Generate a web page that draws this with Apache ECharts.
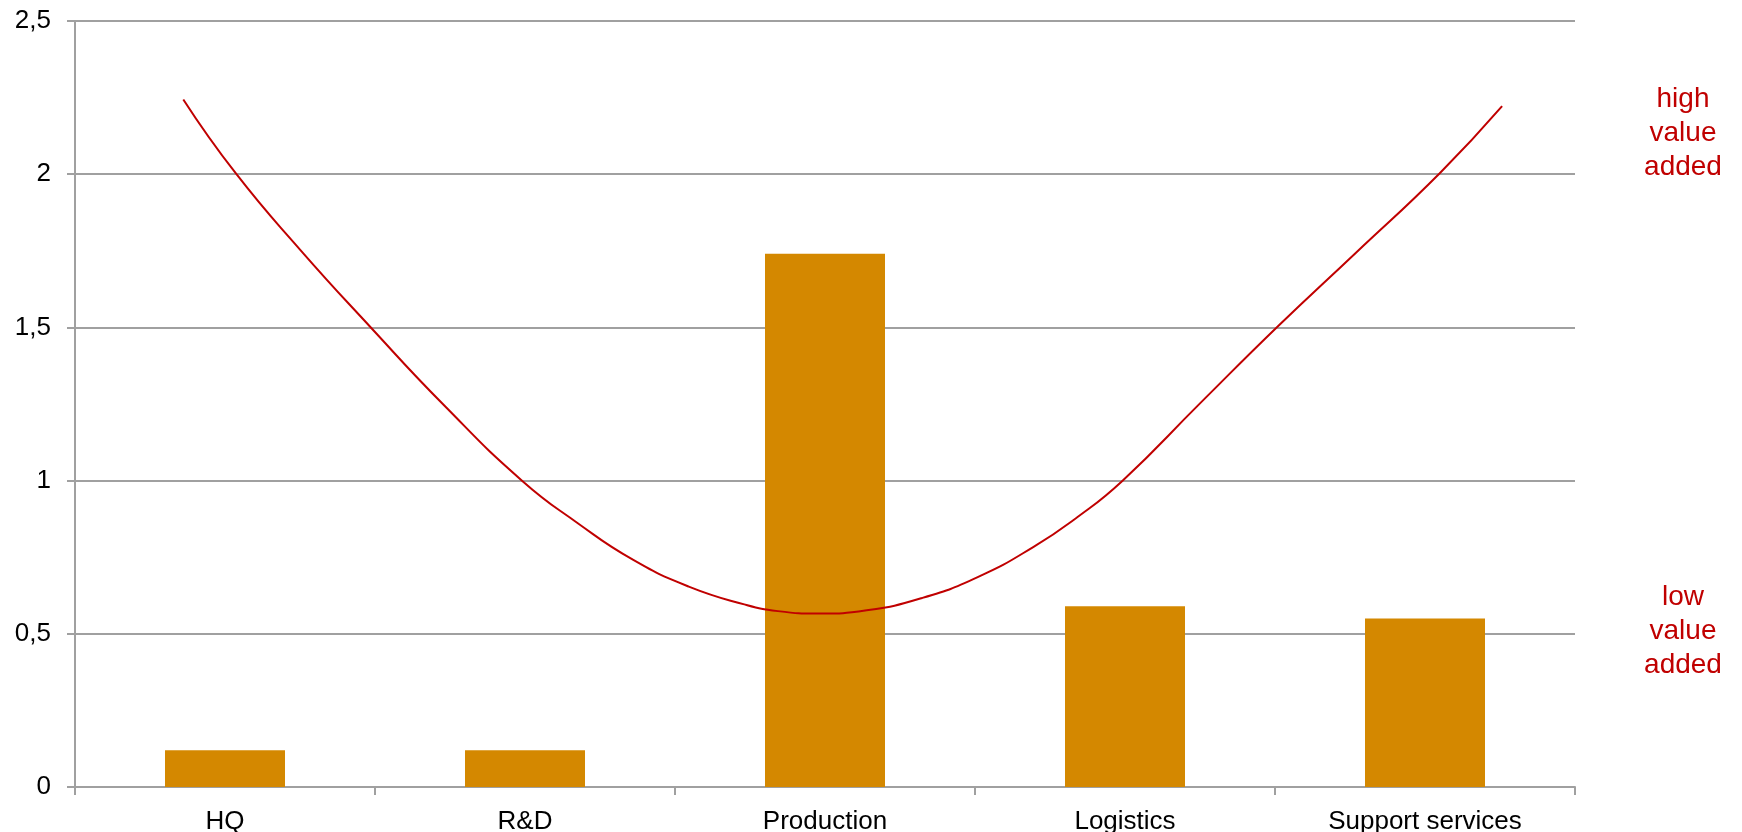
<!DOCTYPE html>
<html>
<head>
<meta charset="utf-8">
<script src="https://cdn.jsdelivr.net/npm/echarts@6/dist/echarts.min.js"></script>
<style>html,body{margin:0;padding:0;background:#fff}#c{width:1742px;height:832px}</style>
</head>
<body>
<div id="c"></div>
<script>
const categories = ['HQ', 'R&D', 'Production', 'Logistics', 'Support services'];
const barValues = [0.12, 0.12, 1.74, 0.59, 0.55];
// curve: position in category units (0 = HQ centre) and value
const curveX = [-0.139, 0.035, 0.250, 0.483, 0.731, 0.991, 1.176, 1.361, 1.546, 1.731, 1.843, 1.980,
                2.139, 2.324, 2.509, 2.694, 2.843, 2.991, 3.250, 3.509, 3.769, 4.050, 4.257];
const curveY = [2.244, 2.004, 1.754, 1.503, 1.245, 0.999, 0.861, 0.741, 0.654, 0.596, 0.574, 0.566,
                0.577, 0.617, 0.685, 0.783, 0.882, 0.999, 1.252, 1.503, 1.743, 2.004, 2.222];
const yTicks = [0, 0.5, 1, 1.5, 2, 2.5];
const highLabel = 'high\nvalue\nadded';
const lowLabel = 'low\nvalue\nadded';

const chart = echarts.init(document.getElementById('c'));
const font = 'Liberation Sans, Arial, sans-serif';
const gray = '#a0a0a0';
chart.setOption({
  animation: false,
  backgroundColor: '#fff',
  grid: { left: 75, right: 167, top: 21, bottom: 45, containLabel: false, outerBoundsMode: 'none' },
  xAxis: [{
    type: 'category',
    data: categories,
    boundaryGap: true,
    axisLine: { show: true, onZero: false, lineStyle: { color: gray, width: 2 } },
    axisTick: { show: true, length: 8, lineStyle: { color: gray, width: 2 } },
    axisLabel: { color: '#000', fontSize: 26, fontFamily: font, margin: 22 },
    splitLine: { show: false }
  }, {
    type: 'value',
    min: -0.5, max: 4.5,
    show: false
  }],
  yAxis: {
    type: 'value',
    min: yTicks[0], max: yTicks[yTicks.length - 1], interval: 0.5,
    axisLine: { show: true, onZero: false, lineStyle: { color: gray, width: 2 } },
    axisTick: { show: true, length: 8, lineStyle: { color: gray, width: 2 } },
    axisLabel: { color: '#000', fontSize: 26, fontFamily: font, margin: 24,
      formatter: v => String(v).replace('.', ',') },
    splitLine: { show: true, lineStyle: { color: gray, width: 2 } }
  },
  series: [{
    type: 'bar',
    data: barValues,
    barWidth: '40%',
    itemStyle: { color: '#D48800' }
  }, {
    type: 'line',
    xAxisIndex: 1,
    data: curveX.map((x, i) => [x, curveY[i]]),
    smooth: 0.5,
    showSymbol: false,
    symbol: 'none',
    lineStyle: { color: '#C00000', width: 2 },
    z: 5
  }],
  graphic: [{
    type: 'text', x: 1683, y: 133,
    style: { text: highLabel, fill: '#C00000', font: '28px ' + font, lineHeight: 34, align: 'center', verticalAlign: 'middle' }
  }, {
    type: 'text', x: 1683, y: 631,
    style: { text: lowLabel, fill: '#C00000', font: '28px ' + font, lineHeight: 34, align: 'center', verticalAlign: 'middle' }
  }]
});
</script>
</body>
</html>
